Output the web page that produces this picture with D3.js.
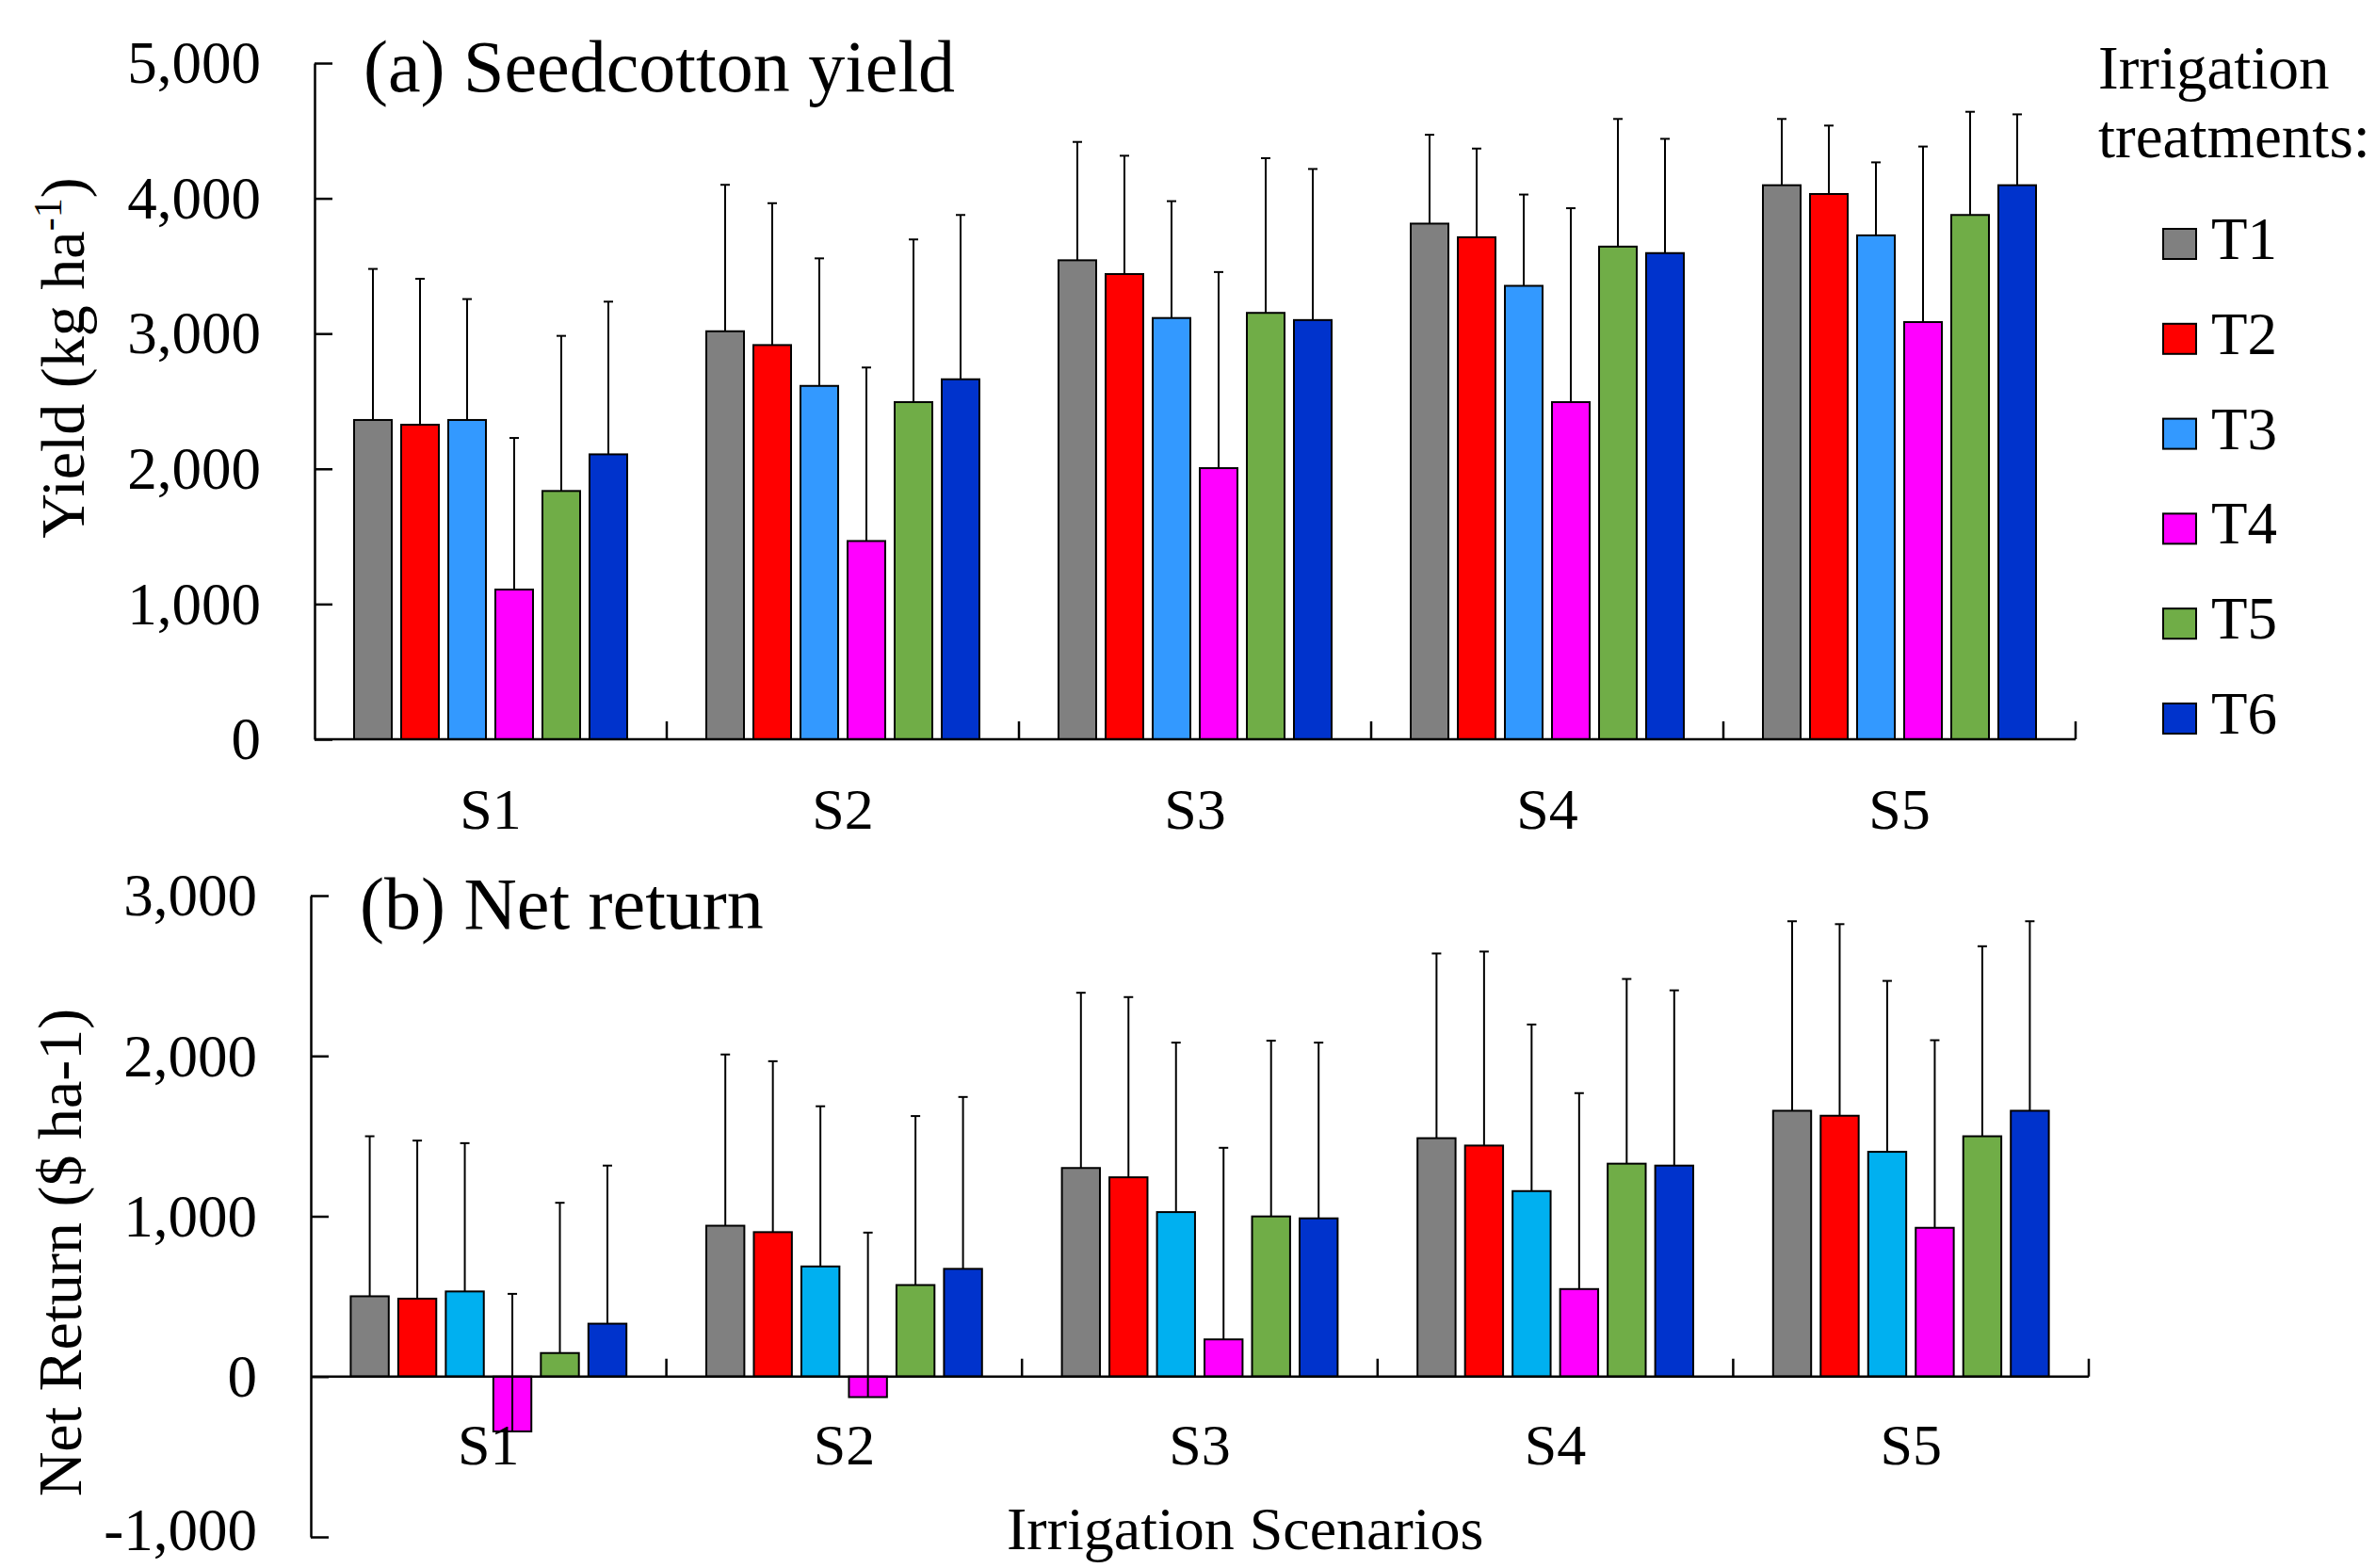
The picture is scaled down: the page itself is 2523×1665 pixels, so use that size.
<!DOCTYPE html>
<html>
<head>
<meta charset="utf-8">
<script src="https://cdn.jsdelivr.net/npm/d3@7"></script>
<style>
  body { margin: 0; background: #fff; }
  svg text { font-family: "Liberation Serif", "Times New Roman", serif; fill: #000; }
</style>
</head>
<body>
<div id="chart"></div>
<script>
var scenarios = ["S1", "S2", "S3", "S4", "S5"];
var treatments = ["T1", "T2", "T3", "T4", "T5", "T6"];

// seedcotton yield (kg/ha), one row per scenario, one column per treatment
var yieldMean = [
  [2361, 2326, 2361, 1107, 1836, 2107],
  [3017, 2915, 2613, 1466, 2493, 2662],
  [3542, 3440, 3115, 2005, 3153, 3100],
  [3813, 3712, 3353, 2493, 3643, 3595],
  [4097, 4032, 3726, 3085, 3877, 4097]
];
var yieldSd = [
  [1117, 1079, 894, 1121, 1147, 1129],
  [1083, 1049, 943, 1283, 1203, 1215],
  [875, 875, 864, 1450, 1144, 1117],
  [657, 656, 675, 1434, 944, 845],
  [490, 506, 540, 1298, 763, 524]
];

// net return ($/ha)
var returnMean = [
  [501, 486, 531, -342, 147, 330],
  [941, 901, 687, -128, 571, 672],
  [1301, 1243, 1026, 232, 999, 987],
  [1487, 1441, 1157, 546, 1328, 1316],
  [1658, 1627, 1402, 928, 1499, 1658]
];
var returnSd = [
  [998, 986, 925, 858, 937, 986],
  [1068, 1066, 999, 1026, 1054, 1072],
  [1093, 1124, 1057, 1195, 1096, 1096],
  [1152, 1210, 1039, 1222, 1152, 1093],
  [1182, 1195, 1066, 1170, 1185, 1182]
];

var yieldTicks = [0, 1000, 2000, 3000, 4000, 5000];
var returnTicks = [-1000, 0, 1000, 2000, 3000];

var yieldColors = ["#808080", "#ff0000", "#3399ff", "#ff00ff", "#70ad47", "#0033cc"];
var returnColors = ["#808080", "#ff0000", "#00b0f0", "#ff00ff", "#70ad47", "#0033cc"];

var width = 2523, height = 1665;

var svg = d3.select("#chart")
            .append("svg")
            .attr("width", width)
            .attr("height", height);

svg.append("rect").attr("width", width).attr("height", height).attr("fill", "#fff");

var fmt = d3.formatLocale({decimal: ".", thousands: ",", grouping: [3], currency: ["$", ""], minus: "-"}).format(",");

function panel(p) {
  var g = svg.append("g");

  var x = d3.scaleBand().domain(scenarios).range([p.left, p.right]);
  var xi = d3.scaleBand().domain(treatments)
             .range([0, x.bandwidth()])
             .paddingInner(0.2)
             .paddingOuter(0.84);
  var y = d3.scaleLinear().domain(p.domain).range([p.bottom, p.top]);

  var data = [];
  scenarios.forEach(function(s, i) {
    treatments.forEach(function(t, j) {
      data.push({s: s, t: t, j: j, v: p.mean[i][j], e: p.sd[i][j]});
    });
  });

  // bars
  g.append("g")
   .selectAll("rect")
   .data(data)
   .enter().append("rect")
   .attr("x", function(d) { return x(d.s) + xi(d.t); })
   .attr("y", function(d) { return y(Math.max(d.v, 0)); })
   .attr("width", xi.bandwidth())
   .attr("height", function(d) { return Math.abs(y(d.v) - y(0)); })
   .attr("fill", function(d) { return p.colors[d.j]; })
   .attr("stroke", "#000")
   .attr("stroke-width", 2);

  // error bars (upper only)
  var err = g.append("g")
             .selectAll("g")
             .data(data)
             .enter().append("g")
             .attr("stroke", "#000")
             .attr("stroke-width", 2);

  err.append("line")
     .attr("x1", function(d) { return x(d.s) + xi(d.t) + xi.bandwidth() / 2; })
     .attr("x2", function(d) { return x(d.s) + xi(d.t) + xi.bandwidth() / 2; })
     .attr("y1", function(d) { return y(d.v); })
     .attr("y2", function(d) { return y(d.v + d.e); });

  err.append("line")
     .attr("x1", function(d) { return x(d.s) + xi(d.t) + xi.bandwidth() / 2 - 5; })
     .attr("x2", function(d) { return x(d.s) + xi(d.t) + xi.bandwidth() / 2 + 5; })
     .attr("y1", function(d) { return y(d.v + d.e); })
     .attr("y2", function(d) { return y(d.v + d.e); });

  // y axis, ticks pointing inward
  var yAxis = g.append("g")
               .attr("transform", "translate(" + p.left + ",0)")
               .call(d3.axisLeft(y).tickValues(p.ticks).tickFormat(fmt)
                       .tickSizeInner(-19).tickSizeOuter(0).tickPadding(57));
  yAxis.select(".domain").attr("stroke-width", 2.5);
  yAxis.selectAll(".tick line").attr("stroke-width", 2.5);
  yAxis.selectAll(".tick text")
       .attr("font-family", null)
       .attr("dy", function(d) { return d === p.domain[0] && d < 0 ? "0.22em" : "0.33em"; })
       .style("font-size", "63px");

  // x axis at zero with boundary ticks pointing up
  var xa = g.append("g").attr("stroke", "#000").attr("stroke-width", 2.5);
  xa.append("line")
    .attr("x1", p.left).attr("x2", p.right)
    .attr("y1", y(0)).attr("y2", y(0));
  xa.selectAll(".bt")
    .data(scenarios.slice(1).map(function(s) { return x(s); }).concat([p.right]))
    .enter().append("line")
    .attr("class", "bt")
    .attr("x1", function(d) { return d; })
    .attr("x2", function(d) { return d; })
    .attr("y1", y(0))
    .attr("y2", y(0) - 19);

  g.append("g")
   .selectAll("text")
   .data(scenarios)
   .enter().append("text")
   .attr("x", function(d) { return x(d) + x.bandwidth() / 2; })
   .attr("y", p.catY)
   .attr("text-anchor", "middle")
   .style("font-size", "62px")
   .text(function(d) { return d; });

  g.append("text")
   .attr("x", p.left + 52)
   .attr("y", p.titleY)
   .style("font-size", "78px")
   .text(p.title);

  return g;
}

panel({
  left: 334, right: 2204, top: 67, bottom: 785,
  domain: [0, 5000], ticks: yieldTicks,
  mean: yieldMean, sd: yieldSd, colors: yieldColors,
  catY: 880, title: "(a) Seedcotton yield", titleY: 97
});

panel({
  left: 330, right: 2218, top: 951, bottom: 1632,
  domain: [-1000, 3000], ticks: returnTicks,
  mean: returnMean, sd: returnSd, colors: returnColors,
  catY: 1555, title: "(b) Net return", titleY: 986
});

// axis titles
var yl = svg.append("text")
            .attr("transform", "translate(89,380) rotate(-90)")
            .attr("text-anchor", "middle")
            .style("font-size", "66px");
yl.append("tspan").text("Yield (kg ha");
yl.append("tspan").attr("dy", -24).style("font-size", "42px").text("-1");
yl.append("tspan").attr("dy", 24).text(")");

svg.append("text")
   .attr("transform", "translate(86,1330) rotate(-90)")
   .attr("text-anchor", "middle")
   .style("font-size", "66px")
   .text("Net Return ($ ha-1)");

svg.append("text")
   .attr("x", 1069)
   .attr("y", 1645)
   .style("font-size", "64px")
   .text("Irrigation Scenarios");

// legend
var legend = svg.append("g");
legend.append("text").attr("x", 2228).attr("y", 94).style("font-size", "65px").text("Irrigation");
legend.append("text").attr("x", 2228).attr("y", 167).style("font-size", "65px").text("treatments:");

var item = legend.selectAll(".item")
                 .data(treatments)
                 .enter().append("g")
                 .attr("class", "item")
                 .attr("transform", function(d, i) { return "translate(2297," + (243 + i * 100.8) + ")"; });

item.append("rect")
    .attr("width", 35)
    .attr("height", 32)
    .attr("fill", function(d, i) { return yieldColors[i]; })
    .attr("stroke", "#000")
    .attr("stroke-width", 2);

item.append("text")
    .attr("x", 51)
    .attr("y", 32)
    .style("font-size", "63px")
    .text(function(d) { return d; });
</script>
</body>
</html>
